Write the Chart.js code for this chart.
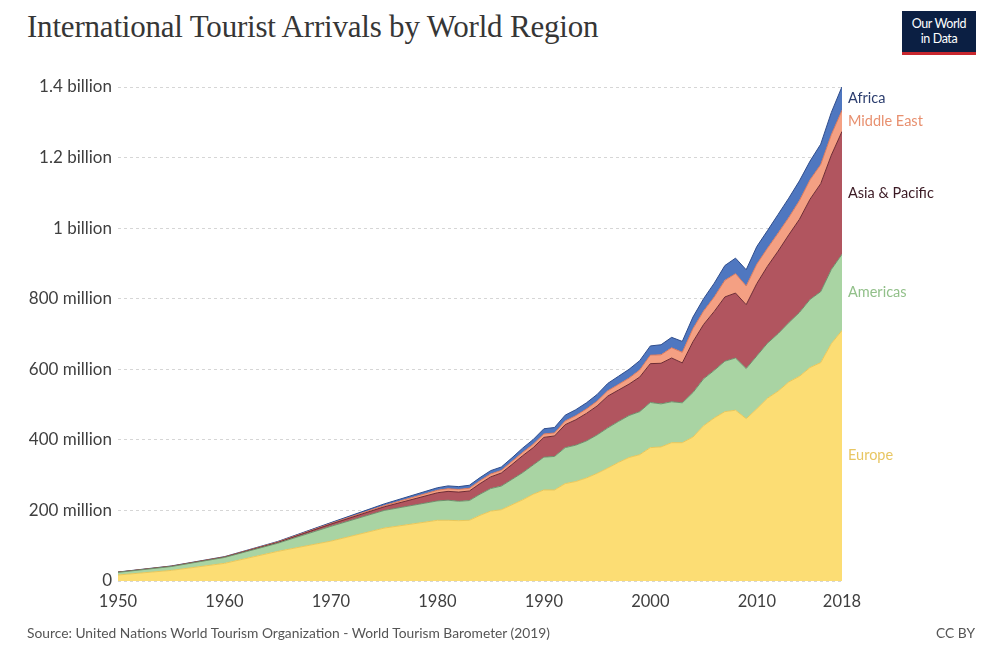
<!DOCTYPE html>
<html lang="en">
<head>
  <meta charset="UTF-8">
  <title>International Tourist Arrivals by World Region</title>
  <style>
    body {
      margin: 0;
      width: 985px;
      height: 648px;
      background: #fff;
      position: relative;
      overflow: hidden;
      font-family: Lato, Arial, sans-serif;
    }
    #chart {
      position: absolute;
      left: 0;
      top: 0;
    }
    h1 {
      position: absolute;
      left: 27px;
      top: 9px;
      margin: 0;
      font-family: "Liberation Serif", serif;
      font-weight: normal;
      font-size: 31px;
      color: #363636;
      letter-spacing: -0.2px;
    }
    #logo {
      position: absolute;
      left: 902px;
      top: 11px;
      width: 74px;
      height: 36px;
      padding-top: 5px;
      background: #0b1f43;
      border-bottom: 3px solid #c8272e;
      color: #fff;
      font-size: 12.5px;
      line-height: 15px;
      text-align: center;
      letter-spacing: -0.4px;
    }
    #source {
      position: absolute;
      left: 27px;
      top: 624px;
      font-size: 13.8px;
      color: #555;
    }
    #license {
      position: absolute;
      right: 10px;
      top: 624px;
      font-size: 13.8px;
      color: #555;
    }
  </style>
</head>
<body>
  <h1>International Tourist Arrivals by World Region</h1>
  <div id="logo">Our World<br>in Data</div>
  <canvas id="chart" width="985" height="648"></canvas>
  <div id="source">Source: United Nations World Tourism Organization - World Tourism Barometer (2019)</div>
  <div id="license">CC BY</div>

  <script src="https://cdn.jsdelivr.net/npm/chart.js"></script>
  <script>
    // arrivals in millions
    const years = [1950, 1955, 1960, 1965, 1970, 1975,
      1980, 1981, 1982, 1983, 1984, 1985, 1986, 1987, 1988, 1989,
      1990, 1991, 1992, 1993, 1994, 1995, 1996, 1997, 1998, 1999,
      2000, 2001, 2002, 2003, 2004, 2005, 2006, 2007, 2008, 2009,
      2010, 2011, 2012, 2013, 2014, 2015, 2016, 2017, 2018];

    const europe = [17, 30, 50, 84, 113, 150,
      172, 172, 171, 172, 186, 198, 202, 216, 230, 246,
      258, 258, 276, 282, 292, 305, 320, 336, 350, 358,
      378, 380, 392, 392, 408, 440, 462, 480, 484, 460,
      488, 518, 538, 564, 580, 605, 619, 673, 710];

    const americas = [7.5, 11, 16.7, 23, 42, 50,
      55, 57, 55, 56, 60, 64, 67, 72, 77, 83,
      93, 95, 102, 103, 105, 109, 114, 116, 119, 122,
      128, 122, 116, 113, 126, 133, 135, 143, 148, 142,
      150, 156, 163, 168, 181, 193, 201, 210, 216];

    const asiaPacific = [0.2, 0.5, 0.9, 2.1, 6.2, 10.2,
      23, 25, 26, 27, 30, 33, 37, 42, 48, 49,
      56, 58, 65, 72, 78, 82, 90, 89, 89, 98,
      110, 115, 124, 113, 144, 154, 167, 182, 184, 181,
      205, 218, 234, 249, 264, 284, 306, 324, 348];

    const middleEast = [0.2, 0.4, 0.6, 1.5, 1.9, 3.5,
      7.1, 7.5, 7.5, 7.8, 8, 8.1, 7.5, 8.5, 9, 9.5,
      9.6, 8.5, 10.5, 11.5, 12.5, 13.7, 15, 16, 17, 20,
      24, 24, 29, 30, 37, 38, 41, 47, 55, 53,
      55, 51, 51, 49, 53, 55, 54, 58, 60];

    const africa = [0.5, 0.7, 0.8, 1.4, 2.4, 4.7,
      7.2, 8, 8, 8.5, 9, 9.7, 9.5, 10.5, 12.5, 13.5,
      14.8, 15.5, 16.5, 17, 17.5, 18.9, 21, 23, 25, 26.5,
      26.2, 28.5, 29.5, 31, 33, 35, 39, 42, 44, 46,
      50, 50, 53, 55, 56, 53, 58, 63, 67];

    const xTicks = [1950, 1960, 1970, 1980, 1990, 2000, 2010, 2018];
    const yTicks = [0, 200, 400, 600, 800, 1000, 1200, 1400];

    function points(values) {
      return values.map((v, i) => ({ x: years[i], y: v }));
    }

    function yLabel(v) {
      if (v === 0) return '0';
      if (v >= 1000) return (v / 1000) + ' billion';
      return v + ' million';
    }

    const series = [
      { label: 'Europe', data: europe, fill: '#fcdd74', line: '#e9c75a', text: '#e8c662' },
      { label: 'Americas', data: americas, fill: '#a9d4a3', line: '#6f8f6c', text: '#92c08a' },
      { label: 'Asia & Pacific', data: asiaPacific, fill: '#b1555f', line: '#6e2b33', text: '#3b1a24' },
      { label: 'Middle East', data: middleEast, fill: '#f4a083', line: '#d9785c', text: '#e8906f' },
      { label: 'Africa', data: africa, fill: '#4f77c0', line: '#2e4c8c', text: '#2b3d6e' }
    ];

    const endLabels = {
      id: 'endLabels',
      afterDatasetsDraw(chart) {
        const ctx = chart.ctx;
        const area = chart.chartArea;
        ctx.save();
        ctx.font = '14.5px Lato';
        ctx.textBaseline = 'middle';
        chart.data.datasets.forEach((ds, i) => {
          const meta = chart.getDatasetMeta(i);
          const last = meta.data[meta.data.length - 1];
          let base = chart.scales.y.getPixelForValue(0);
          if (i > 0) {
            const prev = chart.getDatasetMeta(i - 1).data;
            base = prev[prev.length - 1].y;
          }
          ctx.fillStyle = series[i].text;
          ctx.fillText(ds.label, area.right + 6, (last.y + base) / 2);
        });
        ctx.restore();
      }
    };

    new Chart(document.getElementById('chart'), {
      type: 'line',
      data: {
        datasets: series.map((s, i) => ({
          label: s.label,
          data: points(s.data),
          backgroundColor: s.fill,
          borderColor: s.line,
          borderWidth: 1,
          fill: i === 0 ? 'origin' : '-1',
          pointRadius: 0,
          tension: 0
        }))
      },
      options: {
        responsive: false,
        animation: false,
        layout: { padding: { left: 0, right: 143, top: 87, bottom: 0 } },
        plugins: {
          legend: { display: false },
          tooltip: { enabled: false }
        },
        scales: {
          x: {
            type: 'linear',
            min: 1950,
            max: 2018,
            afterBuildTicks(scale) {
              scale.ticks = xTicks.map(v => ({ value: v }));
            },
            afterFit(scale) { scale.height = 67; },
            grid: { display: false, drawTicks: false },
            border: { display: false },
            ticks: {
              padding: 11,
              color: '#3f3f3f',
              font: { family: 'Lato', size: 16.5 },
              callback: v => String(v)
            }
          },
          y: {
            stacked: true,
            min: 0,
            max: 1400,
            afterBuildTicks(scale) {
              scale.ticks = yTicks.map(v => ({ value: v }));
            },
            afterFit(scale) { scale.width = 118; },
            grid: {
              color: '#d6d6d6',
              drawTicks: false
            },
            border: { display: false, dash: [3, 3] },
            ticks: {
              padding: 6,
              color: '#3f3f3f',
              font: { family: 'Lato', size: 17 },
              callback: v => yLabel(v)
            }
          }
        }
      },
      plugins: [endLabels]
    });
  </script>
</body>
</html>
